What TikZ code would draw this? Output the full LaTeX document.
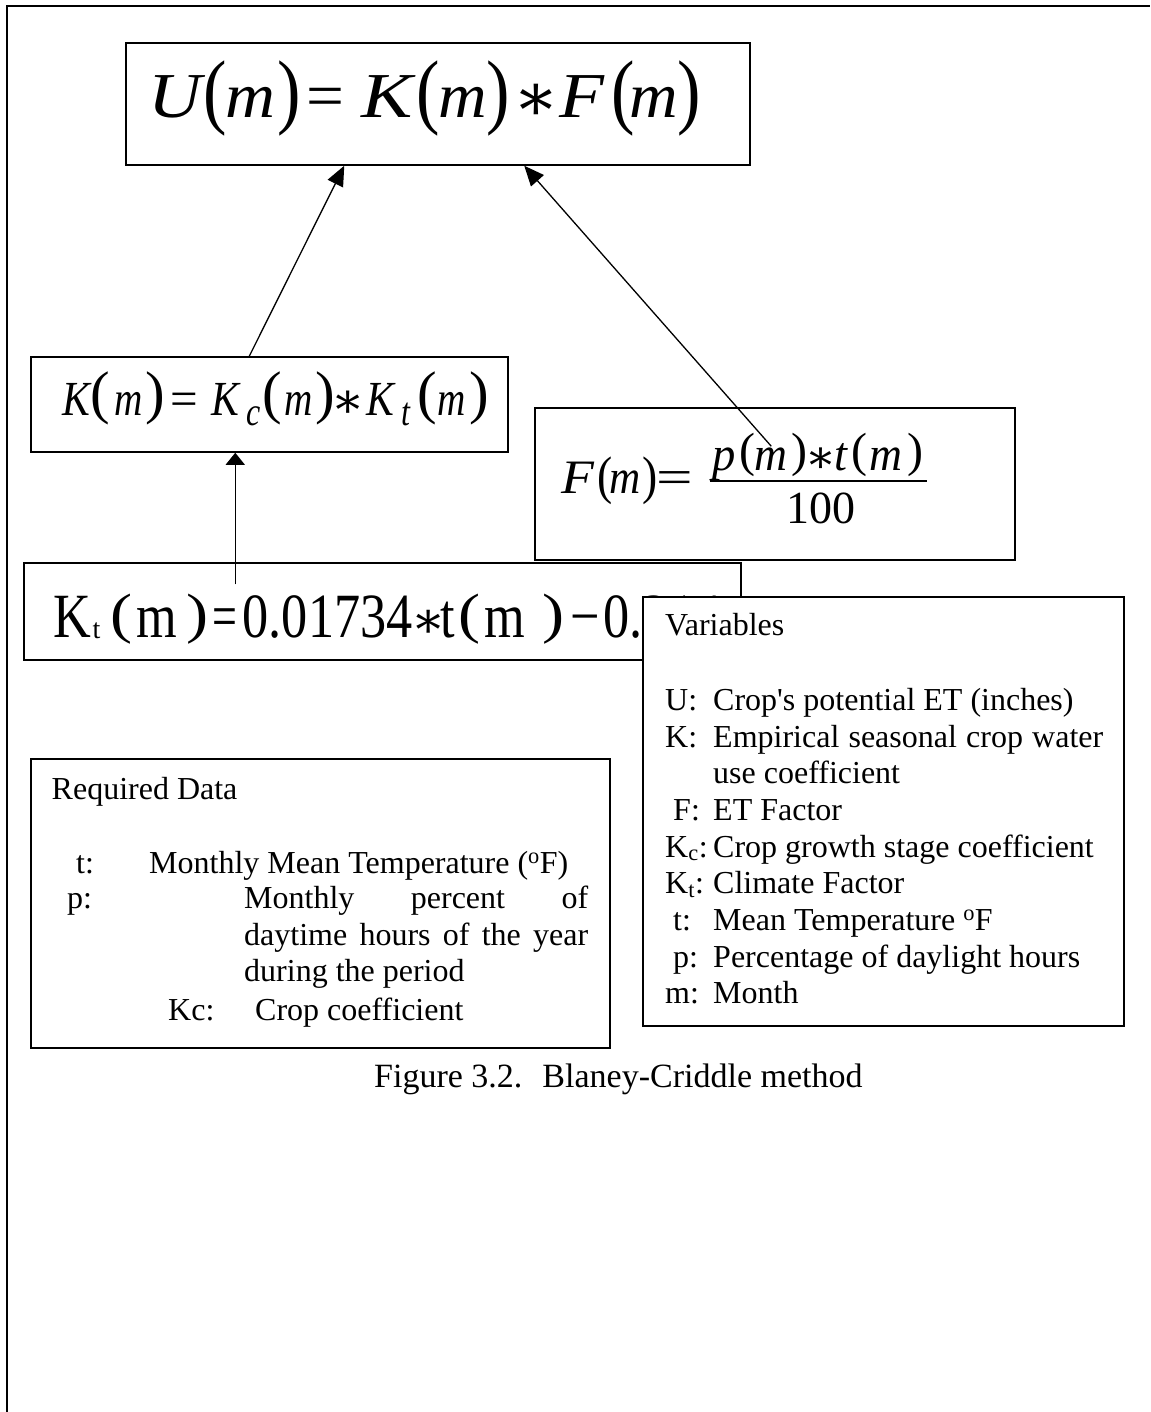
\documentclass[tikz,border=0pt]{standalone}
\usepackage{fontspec}
\setmainfont{Liberation Serif}
\newfontfamily\dv{DejaVu Serif}
\usepackage{graphicx}
\usetikzlibrary{arrows.meta,calc}

% scaled / raised parentheses: #1 horizontal scale, #2 vertical scale, #3 raise
\newcommand{\lpar}[3]{\raisebox{#3}{\scalebox{#1}[#2]{(}}}
\newcommand{\rpar}[3]{\raisebox{#3}{\scalebox{#1}[#2]{)}}}
% asterisk operator: #1 scale, #2 raise
\newcommand{\opast}[2]{\raisebox{#2}{\dv\scalebox{#1}{∗}}}
% italic letter with its own horizontal scale
\newcommand{\ltx}[2]{\scalebox{#1}[1]{\textit{#2}}}
% a piece of an equation placed at a given horizontal offset
\newcommand{\pc}[2]{\makebox[0pt][l]{\hspace*{#1pt}#2}}

\tikzset{
  box/.style={draw, line width=1.5pt, inner sep=0pt, fill=white},
  txt/.style={inner sep=0pt, anchor=base west, font=\fontsize{32}{38}\selectfont},
  eq/.style={inner sep=0pt, anchor=base west},
  arr/.style={line width=1.3pt, -{Triangle[length=20pt,width=17pt]}},
  arrv/.style={line width=1.3pt, -{Triangle[length=12pt,width=19pt]}},
}

\begin{document}
\begin{tikzpicture}[x=1pt,y=-1pt]
\useasboundingbox (0,0) rectangle (1150,1412);
% page frame (top and left)
\draw[line width=2pt] (7,1412) -- (7,6) -- (1150,6);

% U box
\node[box, minimum width=624pt, minimum height=122pt] (U) at (438,104) {};
\node[eq, font=\fontsize{64}{70}\selectfont] (Ueq) at (150,118)
  {\pc{-2}{\ltx{1.15}{U}}\pc{53}{\lpar{1.1}{1.3}{-1pt}}\pc{75}{\ltx{1.08}{m}}\pc{127}{\rpar{1.1}{1.3}{-1pt}}%
   \pc{156}{\scalebox{1.05}[1]{=}}%
   \pc{211}{\ltx{1.2}{K}}\pc{266}{\lpar{1.1}{1.3}{-1pt}}\pc{288}{\ltx{1.05}{m}}\pc{336}{\rpar{1.1}{1.3}{-1pt}}%
   \pc{363}{\opast{1.05}{-3pt}}%
   \pc{409}{\ltx{1.15}{F}}\pc{461}{\lpar{1.1}{1.3}{-1pt}}\pc{479}{\ltx{1.05}{m}}\pc{527}{\rpar{1.1}{1.3}{-1pt}}};

% K box
\node[box, minimum width=477pt, minimum height=95pt] (K) at (269.5,404.5) {};
\node[eq, font=\fontsize{49}{55}\selectfont] (Keq) at (62,415)
  {\pc{0}{\ltx{0.85}{K}}\pc{28}{\lpar{1.2}{1.2}{2.5pt}}\pc{52}{\ltx{0.8}{m}}\pc{83}{\rpar{1.2}{1.2}{2.5pt}}%
   \pc{108}{=}%
   \pc{149}{\ltx{0.85}{K}}\pc{184}{\raisebox{-10pt}{\fontsize{40}{40}\selectfont\ltx{0.8}{c}}}%
   \pc{200}{\lpar{1.2}{1.2}{2.5pt}}\pc{222}{\ltx{0.8}{m}}\pc{253}{\rpar{1.2}{1.2}{2.5pt}}%
   \pc{269}{\opast{1}{-2pt}}%
   \pc{304}{\ltx{0.85}{K}}\pc{339}{\raisebox{-10pt}{\fontsize{40}{40}\selectfont\ltx{0.8}{t}}}%
   \pc{355}{\lpar{1.2}{1.2}{2.5pt}}\pc{375}{\ltx{0.8}{m}}\pc{407}{\rpar{1.2}{1.2}{2.5pt}}};

% F box
\node[box, minimum width=480pt, minimum height=152pt] (F) at (775,484) {};
\node[eq, font=\fontsize{48}{54}\selectfont] (Feq) at (561,493)
  {\pc{0}{\ltx{1.12}{F}}\pc{36}{\lpar{0.95}{1.1}{0pt}}\pc{48}{\ltx{0.9}{m}}\pc{81}{\rpar{0.95}{1.1}{0pt}}%
   \pc{95}{\scalebox{1.35}[1]{=}}};
\node[eq, font=\fontsize{48}{54}\selectfont] (Fnum) at (710,470)
  {\pc{2}{\ltx{0.97}{p}}\pc{29}{\lpar{1}{1}{3.5pt}}\pc{44}{\ltx{0.95}{m}}\pc{81}{\rpar{1}{1}{3.5pt}}%
   \pc{95}{\opast{0.95}{-2pt}}%
   \pc{124}{\ltx{0.97}{t}}\pc{141}{\lpar{1}{1}{3.5pt}}\pc{159}{\ltx{0.95}{m}}\pc{197}{\rpar{1}{1}{3.5pt}}};
\coordinate (barL) at (710,481);
\coordinate (barR) at (927,481);
\draw[line width=2pt] (barL) -- (barR);
\node[eq, font=\fontsize{46}{52}\selectfont] (Fden) at (786,523) {100};

% Kt box
\node[box, minimum width=717pt, minimum height=97pt] (Kt) at (382.5,611.5) {};
\node[eq, font=\fontsize{63}{70}\selectfont] (Kteq) at (53,637)
  {\pc{0}{\scalebox{0.83}[1]{K}}\pc{39}{\raisebox{-1pt}{\fontsize{28}{28}\selectfont t}}%
   \pc{57}{\lpar{1.05}{0.88}{5pt}}\pc{83}{\scalebox{0.83}[1]{m}}\pc{133}{\rpar{1.05}{0.88}{5pt}}%
   \pc{159}{\scalebox{0.7}[1]{=}}\pc{189}{\scalebox{0.83}[1]{0.01734}}\pc{358}{\opast{0.8}{0pt}}%
   \pc{387}{\scalebox{0.83}[1]{t}}\pc{405}{\lpar{1.05}{0.88}{5pt}}\pc{431}{\scalebox{0.83}[1]{m}}\pc{489}{\rpar{1.05}{0.88}{5pt}}%
   \pc{517}{\scalebox{0.83}[1]{−}}\pc{550}{\scalebox{0.83}[1]{0.314}}};

% arrows
\draw[arr] ([xshift=219pt]K.north west) -- ([xshift=219pt]U.south west);
\draw[arr] ([xshift=237pt,yshift=-39pt]F.north west) -- ([xshift=399pt]U.south west);
\draw[arrv] ([xshift=212pt,yshift=-22pt]Kt.north west) -- ([xshift=205pt]K.south west);

% Variables box
\node[box, minimum width=481pt, minimum height=429pt] (V) at (883.5,811.5) {};
\node[txt] (v0) at (665,635) {Variables};
\node[txt] (v1a) at (665,710) {U:};
\node[txt] (v1b) at (713,710) {Crop\textquotesingle s potential ET (inches)};
\node[txt] (v2a) at (665,747) {K:};
\node[txt] (v2b) at (713,747) {\makebox[390pt][s]{Empirical seasonal crop water}};
\node[txt] (v2c) at (713,783) {use coefficient};
\node[txt] (v3a) at (673,820) {F:};
\node[txt] (v3b) at (713,820) {ET Factor};
\node[txt] (v4a) at (665,857) {K\textsubscript{c}:};
\node[txt] (v4b) at (713,857) {Crop growth stage coefficient};
\node[txt] (v5a) at (665,893) {K\textsubscript{t}:};
\node[txt] (v5b) at (713,893) {Climate Factor};
\node[txt] (v6a) at (673,930) {t:};
\node[txt] (v6b) at (713,930) {Mean Temperature \textsuperscript{o}F};
\node[txt] (v7a) at (673,967) {p:};
\node[txt] (v7b) at (713,967) {Percentage of daylight hours};
\node[txt] (v8a) at (665,1003) {m:};
\node[txt] (v8b) at (713,1003) {Month};

% Required data box
\node[box, minimum width=579pt, minimum height=289pt] (R) at (320.5,903.5) {};
\node[txt] (r0) at (51.5,799) {Required Data};
\node[txt] (r1a) at (76,873) {t:};
\node[txt] (r1b) at (149,873) {Monthly Mean Temperature (\textsuperscript{o}F)};
\node[txt] (r2a) at (67,908) {p:};
\node[txt] (r2b) at (244,908) {\makebox[344pt][s]{Monthly percent of}};
\node[txt] (r2c) at (244,945) {\makebox[344pt][s]{daytime hours of the year}};
\node[txt] (r2d) at (244,981) {during the period};
\node[txt] (r3a) at (168,1020) {Kc:};
\node[txt] (r3b) at (255,1020) {Crop coefficient};

% caption
\node[txt, font=\fontsize{34}{40}\selectfont] (cap) at (374,1087) {Figure 3.2.\hspace{20pt}Blaney-Criddle method};
\end{tikzpicture}
\end{document}
